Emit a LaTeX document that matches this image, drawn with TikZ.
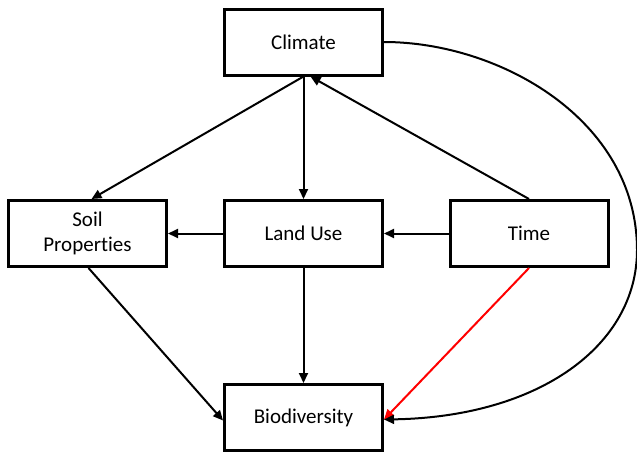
\documentclass[tikz,border=0pt]{standalone}
\usepackage{fontspec}
\setmainfont{Carlito}[Ligatures={NoCommon,NoRequired,NoContextual}]
\usetikzlibrary{arrows.meta}
\begin{document}
\begin{tikzpicture}[x=1pt,y=-1pt,
  box/.style={draw=black,line width=3pt,fill=white,minimum width=158pt,minimum height=66pt,align=center,font=\fontsize{21}{25}\selectfont,inner sep=0pt},
  arr/.style={line width=2pt,-{Triangle[length=10pt,width=9pt]}}]
\useasboundingbox (0,0) rectangle (637,455);
\fill[white] (0,0) rectangle (637,455);
\node[box] (climate) at (303.5,42) {Climate};
\node[box] (soil) at (87.5,233.5) {Soil\\Properties};
\node[box] (land) at (303.5,233.5) {Land Use};
\node[box] (time) at (529,233.5) {Time};
\node[box] (bio) at (303.5,417.5) {Biodiversity};
\coordinate (cs) at ([xshift=7pt]climate.south);
\coordinate (ss) at ([xshift=4pt]soil.north);
\coordinate (bw) at ([yshift=-3pt]bio.west);
\coordinate (be) at ([yshift=-2pt]bio.east);
\coordinate (rim) at (637,250);
\draw[arr] (climate.south) -- (ss);
\draw[arr] (climate.south) -- (land.north);
\draw[arr] (time.north) -- (cs);
\draw[arr] (land.west) -- (soil.east);
\draw[arr] (time.west) -- (land.east);
\draw[arr] (land.south) -- (bio.north);
\draw[arr] ([xshift=1pt]soil.south) -- (bw);
\draw[arr,draw=red,fill=red] (time.south) -- (be);
\draw[arr] (climate.east) .. controls (500,42) and (637,120) .. (rim)
  .. controls (637,345) and (540,417) .. (be);
\end{tikzpicture}
\end{document}
